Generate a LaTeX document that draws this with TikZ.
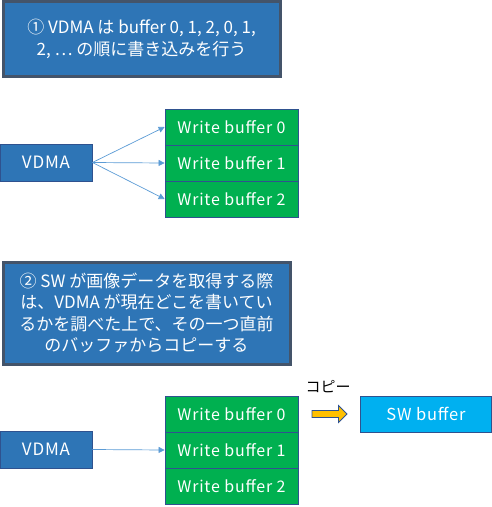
\documentclass[tikz,border=0pt]{standalone}
\usepackage{fontspec}
\setmainfont{Noto Sans CJK JP}
\newfontfamily\latinsp[LetterSpace=5]{Noto Sans CJK JP}
\usetikzlibrary{arrows.meta}
\definecolor{boxblue}{HTML}{2E75B6}
\definecolor{boxedge}{HTML}{44546A}
\definecolor{bufgreen}{HTML}{00B050}
\definecolor{thinedge}{HTML}{2F528F}
\definecolor{conn}{HTML}{5B9BD5}
\definecolor{swblue}{HTML}{00B0F0}
\definecolor{arrowyel}{HTML}{FFC000}
\tikzset{
  notebox/.style={draw=boxedge, line width=3pt, fill=boxblue, text=white, align=center, inner sep=0pt, font=\fontsize{17}{21.5}\selectfont},
  vdmabox/.style={draw=thinedge, line width=0.8pt, fill=boxblue, text=white, minimum width=92pt, minimum height=37pt, inner sep=0pt, font=\latinsp\fontsize{17}{19}\selectfont},
  bufbox/.style={draw=thinedge, line width=0.8pt, fill=bufgreen, text=white, minimum width=133pt, minimum height=36pt, inner sep=0pt, font=\latinsp\fontsize{16}{19}\selectfont},
  swbox/.style={draw=thinedge, line width=0.8pt, fill=swblue, text=white, minimum width=131pt, minimum height=36pt, inner sep=0pt, font=\latinsp\fontsize{16.5}{19}\selectfont},
  conn/.style={draw=conn, line width=0.7pt, -{Triangle[length=6pt,width=6pt]}}
}
\begin{document}
\begin{tikzpicture}[x=1pt,y=-1pt]
\useasboundingbox (0,0) rectangle (492,507);
% box 1
\node[notebox, minimum width=277pt, minimum height=74.5pt] (n1) at (141.5,38.75) {① VDMA は buffer 0, 1, 2, 0, 1,\\2, ⋯ の順に書き込みを行う};
% set 1
\node[vdmabox] (v1) at (46,162.5) {VDMA};
\node[bufbox] (a0) at (231.5,127) {Write buffer 0};
\node[bufbox] (a1) at (231.5,163) {Write buffer 1};
\node[bufbox] (a2) at (231.5,199) {Write buffer 2};
\draw[conn] (v1.east) -- (a0.west);
\draw[conn] (v1.east) -- (a1.west);
\draw[conn] (v1.east) -- (a2.west);
% box 2
\node[notebox, minimum width=287pt, minimum height=102pt] (n2) at (146.5,313) {② SW が画像データを取得する際\\は、VDMA が現在どこを書いてい\\るかを調べた上で、その一つ直前\\のバッファからコピーする};
% set 2
\node[vdmabox] (v2) at (46,449.5) {VDMA};
\node[bufbox] (b0) at (231.5,414) {Write buffer 0};
\node[bufbox] (b1) at (231.5,450) {Write buffer 1};
\node[bufbox] (b2) at (231.5,486) {Write buffer 2};
\draw[conn] (v2.east) -- (b1.west);
\node[swbox] (sw) at (426,414) {SW buffer};
\node[font=\fontsize{15}{18}\selectfont, inner sep=0pt] (cp) at (328,387) {コピー};
\draw[draw=thinedge, line width=0.8pt, fill=arrowyel] (312,410.5) -- (338.5,410.5) -- (338.5,405.5) -- (347,414) -- (338.5,422.5) -- (338.5,417.5) -- (312,417.5) -- cycle;
\end{tikzpicture}
\end{document}
